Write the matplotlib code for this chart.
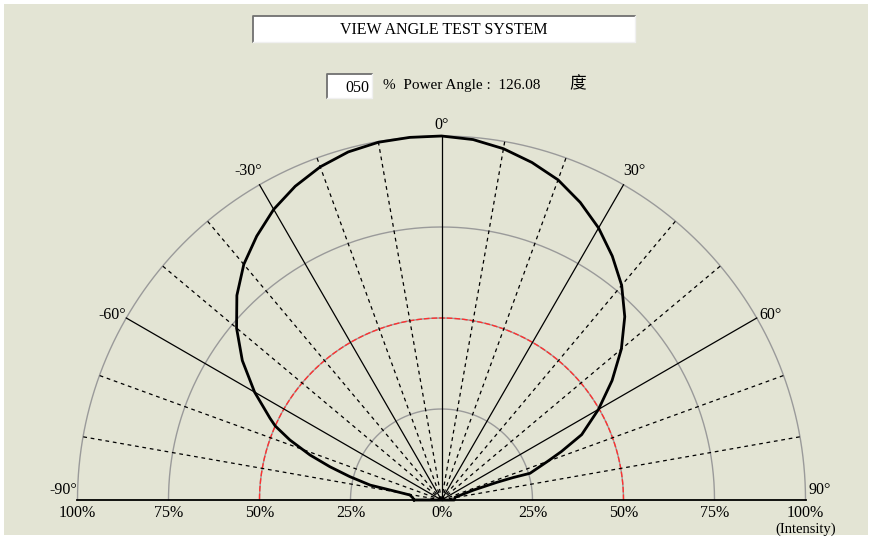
import numpy as np
import matplotlib.pyplot as plt
from matplotlib.patches import Rectangle

# view angle (deg) and relative intensity
angles = [-90, -85, -81, -79, -78.2, -75.7, -73.4, -71.1, -68.4, -66, -64.5, -60,
          -55, -50, -45, -40, -35, -30, -25, -20, -15, -10, -5, 0,
          5, 10, 15, 20, 25, 30, 35, 40, 45, 50, 55, 60, 65, 68, 70,
          73.2, 72.6, 72.3, 72.8, 78.7, 90]
intensity = [0.075, 0.08, 0.088, 0.144, 0.20, 0.26, 0.32, 0.382, 0.448, 0.50, 0.522, 0.593,
             0.668, 0.735, 0.795, 0.845, 0.885, 0.922, 0.951, 0.974, 0.99, 0.998, 1.0, 1.0,
             0.994, 0.98, 0.96, 0.936, 0.902, 0.863, 0.818, 0.77, 0.712, 0.645, 0.572, 0.498, 0.425, 0.355, 0.31,
             0.254, 0.206, 0.16, 0.092, 0.038, 0.035]

rings = [0.25, 0.5, 0.75, 1.0]
grid_angles = list(range(-80, 90, 10))
angle_labels = [-90, -60, -30, 0, 30, 60, 90]
pct_pos = [-1, -0.75, -0.5, -0.25, 0, 0.25, 0.5, 0.75, 1]
pct_text = ['100%', '75%', '50%', '25%', '0%', '25%', '50%', '75%', '100%']

power_level = '050'
power_angle = '126.08'

W, H = 872, 539
bg = '#e3e4d4'
serif = ['Liberation Serif', 'Noto Sans CJK TC']

fig = plt.figure(figsize=(W / 100, H / 100), dpi=100, facecolor='white')

def fx(px):
    return px / W

def fy(py):
    return 1 - py / H

# panel background
fig.patches.append(Rectangle((fx(4), fy(535)), fx(864), (531) / H, transform=fig.transFigure,
                             facecolor=bg, edgecolor='none', zorder=-10))

# polar area: center at pixel (441.5, 500), radius 364 px
cx, cy, R = 441.5, 500, 364
ax = fig.add_axes([0, 0, 1, 1])
ax.set_zorder(2)
ax.set_xlim((0 - cx) / R, (W - cx) / R)
ax.set_ylim((cy - H) / R, cy / R)
ax.axis('off')
ax.patch.set_alpha(0)

t = np.linspace(0, np.pi, 400)
for r in rings:
    ax.plot(r * np.cos(t), r * np.sin(t), color='#9a9a9a', lw=1.0, zorder=1)
    if r == 0.5:
        ax.plot(r * np.cos(t), r * np.sin(t), color='#ff3030', lw=1.0,
                linestyle=(0, (4, 1.5)), zorder=2)

for a in grid_angles:
    th = np.radians(a)
    solid = a % 30 == 0
    ax.plot([0, np.sin(th)], [0, np.cos(th)], color='black',
            lw=0.9, linestyle='-' if solid else (0, (3, 3)), zorder=3)

# baseline (+-90)
ax.plot([-1, 1], [0, 0], color='black', lw=1.3, zorder=3)

# measured curve
th = np.radians(angles)
r = np.array(intensity)
xs = r * np.sin(th)
ys = r * np.cos(th)
ax.plot(np.append(xs, xs[0]), np.append(ys, ys[0]), color='black', lw=2.0,
        solid_joinstyle='round', zorder=4)

# angle labels
for a in angle_labels:
    th_a = np.radians(a)
    rr = 1.06 if abs(a) == 30 else 1.045
    lx, ly = rr * np.sin(th_a), rr * np.cos(th_a) - 0.014
    if abs(a) == 90:
        ly = 0.027
        lx = 1.04 * np.sign(a)
    ax.text(lx, ly, f'{a}°', ha='center', va='center', fontsize=11.5,
            family=serif, zorder=5)

for p, s in zip(pct_pos, pct_text):
    ax.text(p, -0.036, s, ha='center', va='center', fontsize=11.5, family=serif)
ax.text(1, -0.08, '(Intensity)', ha='center', va='center', fontsize=10.5, family=serif)

# title box
def sunken_box(x0, y0, x1, y1):
    fig.patches.append(Rectangle((fx(x0), fy(y1)), (x1 - x0) / W, (y1 - y0) / H,
                                 transform=fig.transFigure, facecolor='white',
                                 edgecolor='none', zorder=1))
    fig.lines.append(plt.Line2D([fx(x0), fx(x0), fx(x1)], [fy(y1), fy(y0), fy(y0)],
                                transform=fig.transFigure, color='#707070', lw=1.3, zorder=1.5))
    fig.lines.append(plt.Line2D([fx(x0), fx(x1), fx(x1)], [fy(y1), fy(y1), fy(y0)],
                                transform=fig.transFigure, color='#f0f0f0', lw=1.0, zorder=1.5))

sunken_box(253, 16, 635, 42)
fig.text(fx(444), fy(30), 'VIEW ANGLE TEST SYSTEM', ha='center', va='center',
         fontsize=11.5, family=serif)

sunken_box(327, 74, 372, 98)
fig.text(fx(369), fy(88), power_level, ha='right', va='center', fontsize=11.5, family=serif)
fig.text(fx(383), fy(86), f'%  Power Angle :  {power_angle}', ha='left', va='center',
         fontsize=11, family=serif)
fig.text(fx(578), fy(84), '度', ha='center', va='center', fontsize=12, family=serif)

fig.savefig('out.png', dpi=100, facecolor='white')
